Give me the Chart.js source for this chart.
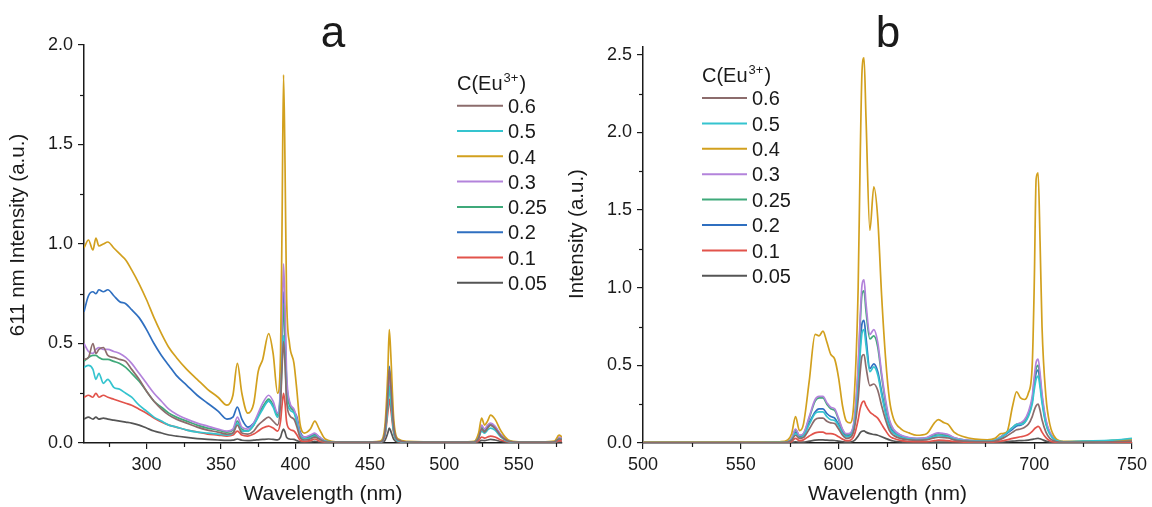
<!DOCTYPE html>
<html><head><meta charset="utf-8">
<script src="https://cdn.jsdelivr.net/npm/chart.js@4/dist/chart.umd.min.js"></script>
<style>
html,body{margin:0;padding:0;background:#fff;width:1152px;height:507px;overflow:hidden}
#wa{position:absolute;left:0;top:0;width:580px;height:507px}
#wb{position:absolute;left:556px;top:0;width:596px;height:507px}
</style></head><body>
<div id="wa"><canvas id="ca"></canvas></div>
<div id="wb"><canvas id="cb"></canvas></div>
<script>
// ---- categories / labels ----
const seriesLabels = ['0.6','0.5','0.4','0.3','0.25','0.2','0.1','0.05'];
const seriesColors = ['#8c6c6c','#35c4cf','#d2a01e','#b383db','#3fa97a','#2f6fc0','#e2534b','#555555'];
const legendTitle = 'C(Eu';
const legendSup = '3+';

// ---- panel a : excitation (611 nm) ----
const waveA = [258,261,264,266,268,271, 274,278,282,286,290,295, 300,305,310,315,320,327, 334,341,348,354,358,361, 364,368,372,375,378,382, 385,388,390,391,392,393, 394,396,399,401,403,406, 410,413,416,420,430,445, 457,460,462,463,464,466, 469,475,490,510,520,523, 525,527,529,531,534,538, 543,550,565,574,577,579];
const a_06  = [0.42,0.43,0.50,0.45,0.47,0.48, 0.44,0.43,0.42,0.41,0.37,0.32, 0.26,0.21,0.17,0.14,0.12,0.10, 0.08,0.065,0.055,0.045,0.05,0.09, 0.05,0.045,0.06,0.09,0.11,0.13, 0.11,0.09,0.20,0.38,0.51,0.40, 0.22,0.14,0.12,0.08,0.03,0.015, 0.02,0.03,0.02,0.006,0.004,0.004, 0.006,0.05,0.24,0.37,0.29,0.08, 0.015,0.005,0.004,0.004,0.005,0.025, 0.07,0.055,0.075,0.09,0.075,0.035, 0.01,0.004,0.004,0.006,0.02,0.018];
const a_05  = [0.38,0.39,0.37,0.32,0.35,0.30, 0.32,0.28,0.27,0.25,0.23,0.19, 0.16,0.13,0.11,0.09,0.08,0.065, 0.055,0.05,0.045,0.04,0.05,0.10, 0.06,0.06,0.09,0.13,0.17,0.21, 0.18,0.13,0.22,0.40,0.54,0.42, 0.24,0.17,0.15,0.10,0.04,0.02, 0.025,0.035,0.02,0.008,0.004,0.004, 0.006,0.04,0.19,0.285,0.22,0.06, 0.01,0.005,0.004,0.004,0.005,0.025, 0.06,0.05,0.065,0.075,0.065,0.03, 0.008,0.004,0.004,0.006,0.02,0.018];
const a_04  = [0.98,1.02,0.97,1.03,0.99,1.00, 1.01,0.98,0.95,0.92,0.87,0.80, 0.72,0.63,0.55,0.48,0.43,0.37, 0.32,0.27,0.23,0.19,0.24,0.40, 0.25,0.15,0.20,0.36,0.42,0.55, 0.45,0.25,0.45,1.10,1.85,1.40, 0.75,0.50,0.40,0.26,0.10,0.05, 0.07,0.11,0.07,0.02,0.005,0.005, 0.01,0.08,0.35,0.57,0.45,0.12, 0.02,0.008,0.006,0.005,0.008,0.05, 0.125,0.09,0.11,0.14,0.12,0.06, 0.015,0.006,0.006,0.01,0.04,0.03];
const a_03  = [0.50,0.46,0.45,0.47,0.48,0.47, 0.47,0.46,0.45,0.43,0.40,0.35, 0.30,0.25,0.21,0.17,0.145,0.12, 0.10,0.085,0.07,0.06,0.07,0.13, 0.08,0.07,0.10,0.15,0.20,0.24, 0.21,0.15,0.30,0.62,0.90,0.68, 0.36,0.21,0.17,0.12,0.05,0.03, 0.04,0.05,0.03,0.01,0.004,0.004, 0.006,0.04,0.22,0.34,0.26,0.07, 0.012,0.005,0.004,0.004,0.005,0.035, 0.09,0.07,0.09,0.10,0.085,0.04, 0.01,0.004,0.004,0.006,0.03,0.025];
const a_025 = [0.41,0.43,0.44,0.44,0.43,0.42, 0.42,0.41,0.40,0.38,0.35,0.31, 0.26,0.21,0.18,0.15,0.13,0.11, 0.09,0.075,0.065,0.055,0.065,0.11, 0.07,0.06,0.09,0.14,0.18,0.22, 0.19,0.14,0.27,0.50,0.70,0.52, 0.28,0.19,0.16,0.11,0.045,0.025, 0.03,0.04,0.025,0.008,0.004,0.004, 0.006,0.04,0.19,0.29,0.22,0.06, 0.01,0.005,0.004,0.004,0.005,0.03, 0.08,0.06,0.08,0.09,0.075,0.035, 0.01,0.004,0.004,0.006,0.025,0.02];
const a_02  = [0.66,0.74,0.76,0.75,0.77,0.76, 0.77,0.74,0.71,0.70,0.67,0.63, 0.57,0.50,0.44,0.39,0.34,0.29, 0.24,0.20,0.16,0.12,0.13,0.18, 0.12,0.08,0.10,0.14,0.18,0.21, 0.19,0.15,0.25,0.50,0.76,0.58, 0.32,0.20,0.16,0.13,0.06,0.03, 0.035,0.045,0.03,0.01,0.004,0.004, 0.006,0.05,0.25,0.385,0.30,0.08, 0.015,0.005,0.004,0.004,0.005,0.03, 0.08,0.06,0.08,0.095,0.08,0.04, 0.01,0.004,0.004,0.006,0.025,0.02];
const a_01  = [0.23,0.24,0.23,0.25,0.23,0.24, 0.23,0.22,0.21,0.20,0.19,0.17, 0.15,0.125,0.105,0.09,0.08,0.065, 0.055,0.045,0.04,0.035,0.04,0.06, 0.04,0.035,0.045,0.06,0.075,0.085, 0.075,0.06,0.11,0.19,0.25,0.20, 0.11,0.07,0.06,0.04,0.015,0.008, 0.012,0.02,0.01,0.004,0.003,0.003, 0.004,0.03,0.15,0.22,0.17,0.05, 0.008,0.003,0.003,0.003,0.004,0.012, 0.03,0.025,0.03,0.035,0.03,0.015, 0.005,0.003,0.003,0.004,0.012,0.01];
const a_005 = [0.12,0.13,0.12,0.13,0.12,0.125, 0.12,0.115,0.11,0.105,0.10,0.09, 0.075,0.06,0.05,0.04,0.035,0.028, 0.022,0.018,0.015,0.013,0.014,0.02, 0.014,0.012,0.014,0.016,0.018,0.02, 0.018,0.016,0.03,0.055,0.07,0.055, 0.03,0.02,0.018,0.012,0.006,0.004, 0.005,0.008,0.005,0.003,0.002,0.002, 0.003,0.012,0.05,0.075,0.06,0.018, 0.004,0.002,0.002,0.002,0.002,0.006, 0.013,0.012,0.015,0.018,0.015,0.008, 0.003,0.002,0.002,0.002,0.005,0.005];
const xTicksA = [300,350,400,450,500,550];
const xMinorA = [275,325,375,425,475,525,575];
const yTicksA = [0,0.5,1.0,1.5,2.0];
const yMinorA = [0.25,0.75,1.25,1.75];

// ---- panel b : emission ----
const waveB = [500,530,560,570,574,576, 578,580,582,585,588, 590,592,594,596,598, 600,602,604,606,608, 610,611,612,613,614, 616,618,620,622,624, 626,628,632,636,640, 645,649,651,654,656, 659,664,670,676,680, 683,686,689,691,693, 695,697,699,700,701, 702,703,704,706,708, 711,715,725,740,750];
const b_06  = [0.002,0.002,0.002,0.003,0.006,0.018, 0.05,0.03,0.035,0.09,0.15, 0.16,0.16,0.14,0.13,0.125, 0.09,0.05,0.03,0.035,0.09, 0.28,0.45,0.56,0.57,0.49, 0.37,0.38,0.34,0.24,0.15, 0.08,0.05,0.028,0.02,0.017, 0.02,0.033,0.037,0.035,0.032, 0.02,0.012,0.009,0.009,0.013, 0.025,0.045,0.07,0.085,0.09, 0.10,0.12,0.17,0.21,0.24, 0.25,0.21,0.15,0.07,0.03, 0.01,0.005,0.005,0.008,0.012];
const b_05  = [0.003,0.003,0.003,0.004,0.008,0.022, 0.06,0.035,0.045,0.12,0.19, 0.20,0.20,0.17,0.15,0.145, 0.11,0.06,0.04,0.045,0.11, 0.35,0.57,0.71,0.73,0.63, 0.46,0.49,0.44,0.31,0.19, 0.10,0.065,0.037,0.026,0.022, 0.026,0.042,0.047,0.044,0.04, 0.026,0.016,0.012,0.012,0.018, 0.035,0.065,0.10,0.12,0.12, 0.13,0.17,0.25,0.34,0.41, 0.43,0.36,0.26,0.12,0.055, 0.017,0.008,0.012,0.018,0.03];
const b_04  = [0.005,0.005,0.005,0.008,0.02,0.06, 0.17,0.08,0.12,0.40,0.70, 0.69,0.72,0.65,0.57,0.54, 0.42,0.24,0.14,0.13,0.30, 1.00,1.80,2.40,2.48,2.10, 1.37,1.65,1.45,0.95,0.55, 0.28,0.16,0.09,0.065,0.05, 0.06,0.13,0.15,0.13,0.12, 0.07,0.04,0.025,0.02,0.03, 0.06,0.07,0.24,0.33,0.29, 0.28,0.32,0.50,1.00,1.70, 1.74,1.30,0.75,0.30,0.12, 0.03,0.01,0.01,0.015,0.02];
const b_03  = [0.003,0.003,0.003,0.004,0.01,0.03, 0.09,0.05,0.06,0.17,0.28, 0.30,0.30,0.26,0.23,0.22, 0.16,0.09,0.06,0.065,0.15, 0.50,0.80,1.02,1.05,0.90, 0.70,0.73,0.65,0.45,0.28, 0.15,0.09,0.05,0.035,0.03, 0.035,0.06,0.065,0.06,0.055, 0.035,0.02,0.015,0.015,0.02, 0.04,0.07,0.10,0.12,0.13, 0.15,0.20,0.30,0.42,0.52, 0.54,0.45,0.32,0.15,0.07, 0.02,0.008,0.008,0.012,0.02];
const b_025 = [0.003,0.003,0.003,0.004,0.01,0.028, 0.085,0.047,0.057,0.16,0.27, 0.29,0.29,0.25,0.22,0.21, 0.15,0.085,0.055,0.06,0.14, 0.47,0.76,0.96,0.98,0.85, 0.67,0.69,0.62,0.43,0.26, 0.14,0.085,0.048,0.033,0.028, 0.033,0.055,0.06,0.055,0.05, 0.033,0.02,0.015,0.015,0.02, 0.04,0.07,0.10,0.12,0.125, 0.14,0.19,0.28,0.40,0.48, 0.50,0.42,0.30,0.14,0.065, 0.02,0.008,0.01,0.015,0.025];
const b_02  = [0.003,0.003,0.003,0.004,0.008,0.025, 0.07,0.04,0.05,0.13,0.20, 0.22,0.22,0.19,0.17,0.16, 0.12,0.07,0.045,0.05,0.12, 0.38,0.62,0.77,0.79,0.68, 0.48,0.51,0.46,0.33,0.20, 0.11,0.07,0.04,0.028,0.024, 0.028,0.045,0.05,0.047,0.043, 0.028,0.017,0.012,0.012,0.018, 0.035,0.06,0.09,0.11,0.115, 0.13,0.18,0.27,0.37,0.45, 0.47,0.39,0.28,0.13,0.06, 0.018,0.007,0.008,0.012,0.02];
const b_01  = [0.002,0.002,0.002,0.002,0.004,0.01, 0.03,0.015,0.02,0.045,0.065, 0.07,0.07,0.06,0.06,0.055, 0.04,0.025,0.015,0.018,0.05, 0.15,0.22,0.26,0.27,0.24, 0.20,0.18,0.16,0.12,0.08, 0.045,0.03,0.015,0.01,0.008, 0.009,0.015,0.018,0.017,0.015, 0.01,0.006,0.005,0.005,0.007, 0.012,0.02,0.03,0.035,0.04, 0.045,0.055,0.075,0.09,0.10, 0.107,0.095,0.07,0.035,0.015, 0.005,0.003,0.003,0.004,0.006];
const b_005 = [0.001,0.001,0.001,0.001,0.002,0.004, 0.008,0.005,0.006,0.012,0.018, 0.02,0.02,0.018,0.017,0.016, 0.012,0.008,0.005,0.006,0.015, 0.045,0.065,0.075,0.078,0.07, 0.06,0.055,0.05,0.04,0.03, 0.02,0.013,0.007,0.004,0.003, 0.003,0.005,0.006,0.006,0.005, 0.004,0.002,0.002,0.002,0.003, 0.005,0.008,0.012,0.014,0.015, 0.016,0.019,0.023,0.026,0.028, 0.03,0.027,0.022,0.012,0.006, 0.003,0.002,0.002,0.002,0.003];
const xTicksB = [500,550,600,650,700,750];
const xMinorB = [525,575,625,675,725];
const yTicksB = [0,0.5,1.0,1.5,2.0,2.5];
const yMinorB = [0.25,0.75,1.25,1.75,2.25];

const FONT = '"Liberation Sans", Arial, Helvetica, sans-serif';
const INK = '#1a1a1a';

const decor = {
  id: 'decor',
  afterDraw(chart, args, o) {
    const ctx = chart.ctx, xs = chart.scales.x, ys = chart.scales.y;
    ctx.save();
    ctx.strokeStyle = INK; ctx.lineWidth = 1.2;
    o.xMinor.forEach(v => { const p = Math.round(xs.getPixelForValue(v)) + 0.5;
      ctx.beginPath(); ctx.moveTo(p, ys.bottom); ctx.lineTo(p, ys.bottom + 4); ctx.stroke(); });
    o.yMinor.forEach(v => { const p = Math.round(ys.getPixelForValue(v)) + 0.5;
      ctx.beginPath(); ctx.moveTo(xs.left, p); ctx.lineTo(xs.left - 4, p); ctx.stroke(); });
    // panel letter
    ctx.fillStyle = INK;
    ctx.font = '44px ' + FONT; ctx.textAlign = 'center'; ctx.textBaseline = 'alphabetic';
    ctx.fillText(o.letter, o.letterX, 47);
    // y title
    ctx.save(); ctx.translate(o.yTitleX, o.yTitleY); ctx.rotate(-Math.PI / 2);
    ctx.font = '20.5px ' + FONT; ctx.textBaseline = 'middle'; ctx.textAlign = 'center';
    ctx.fillText(o.yTitle, 0, 0); ctx.restore();
    // legend
    const L = o.legend;
    ctx.textAlign = 'left'; ctx.textBaseline = 'alphabetic';
    ctx.font = '20px ' + FONT;
    let x = L.x; ctx.fillText(legendTitle, x, L.head); x += ctx.measureText(legendTitle).width + 1;
    ctx.font = '13px ' + FONT; ctx.fillText(legendSup, x, L.head - 8); x += ctx.measureText(legendSup).width + 1;
    ctx.font = '20px ' + FONT; ctx.fillText(')', x, L.head);
    seriesLabels.forEach((lab, i) => {
      const y = L.y0 + i * L.dy;
      ctx.strokeStyle = seriesColors[i]; ctx.lineWidth = 2;
      ctx.beginPath(); ctx.moveTo(L.x, y); ctx.lineTo(L.x2, y); ctx.stroke();
      ctx.fillStyle = INK; ctx.fillText(lab, L.tx, y + 7.2);
    });
    ctx.restore();
  }
};

function makeChart(id, c) {
  const datasets = c.series.map((vals, i) => ({
    label: seriesLabels[i],
    data: c.wave.map((w, j) => ({x: w, y: vals[j]})),
    borderColor: seriesColors[i], borderWidth: 1.7, pointRadius: 0,
    cubicInterpolationMode: 'monotone', fill: false
  }));
  return new Chart(document.getElementById(id), {
    type: 'line',
    data: {datasets},
    plugins: [decor],
    options: {
      responsive: true, maintainAspectRatio: false, animation: false, devicePixelRatio: 1,
      layout: {padding: {left: 0, top: c.top, right: c.right, bottom: 0}},
      plugins: {legend: {display: false}, tooltip: {enabled: false}, decor: c.decor},
      scales: {
        x: {
          type: 'linear', min: c.xmin, max: c.xmax,
          afterBuildTicks: s => { s.ticks = c.xTicks.map(v => ({value: v})); },
          afterFit: s => { s.height = 64; },
          border: {display: true, color: INK, width: 1.5},
          grid: {display: true, drawOnChartArea: false, drawTicks: true, tickLength: 6, color: INK, lineWidth: 1.2},
          ticks: {color: INK, font: {family: FONT, size: 18}, padding: 5, maxRotation: 0, callback: v => String(v)},
          title: {display: true, text: 'Wavelength (nm)', color: INK, font: {family: FONT, size: 21}, padding: {top: 0, bottom: 0}}
        },
        y: {
          type: 'linear', min: 0, max: c.ymax,
          afterBuildTicks: s => { s.ticks = c.yTicks.map(v => ({value: v})); },
          afterFit: s => { s.width = c.yw; },
          border: {display: true, color: INK, width: 1.5},
          grid: {display: true, drawOnChartArea: false, drawTicks: true, tickLength: 6, color: INK, lineWidth: 1.2},
          ticks: {color: INK, font: {family: FONT, size: 18}, padding: 5, callback: v => Number(v).toFixed(1)}
        }
      }
    }
  });
}

makeChart('ca', {
  wave: waveA, series: [a_06, a_05, a_04, a_03, a_025, a_02, a_01, a_005],
  xmin: 258, xmax: 579, ymax: 2.0, xTicks: xTicksA, yTicks: yTicksA,
  top: 45, right: 18, yw: 84,
  decor: {xMinor: xMinorA, yMinor: yMinorA, letter: 'a', letterX: 333, yTitle: '611 nm Intensity (a.u.)', yTitleX: 18, yTitleY: 235,
    legend: {x: 457, x2: 503, tx: 508, head: 89.5, y0: 105.7, dy: 25.3}}
});
makeChart('cb', {
  wave: waveB, series: [b_06, b_05, b_04, b_03, b_025, b_02, b_01, b_005],
  xmin: 500, xmax: 750, ymax: 2.55, xTicks: xTicksB, yTicks: yTicksB,
  top: 47, right: 17, yw: 87,
  decor: {xMinor: xMinorB, yMinor: yMinorB, letter: 'b', letterX: 332, yTitle: 'Intensity (a.u.)', yTitleX: 21, yTitleY: 234,
    legend: {x: 146, x2: 191, tx: 196, head: 81.7, y0: 98, dy: 25.4}}
});
</script>
</body></html>
